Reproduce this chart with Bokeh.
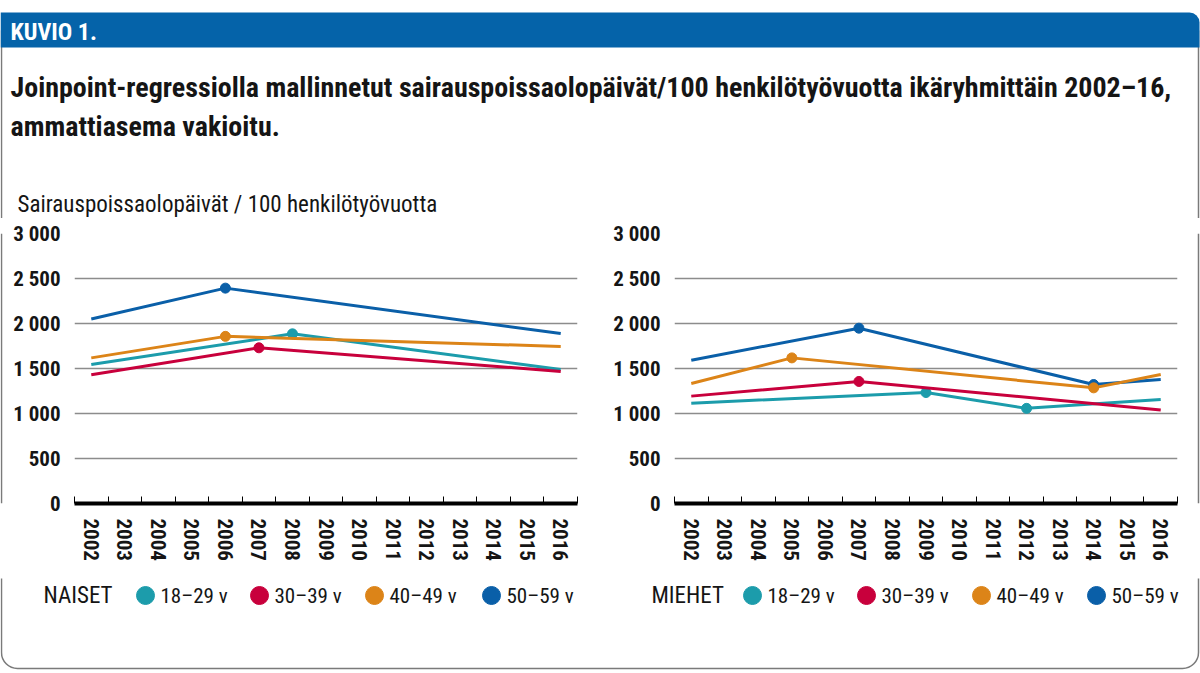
from bokeh.plotting import figure
from bokeh.layouts import column, row
from bokeh.models import Range1d, FixedTicker, ColumnDataSource
from bokeh.core.properties import value
from bokeh.embed import file_html
from bokeh.resources import INLINE

FONT = "'Roboto Condensed', 'DejaVu Sans Condensed', Roboto"

# ---------------- data ----------------
header_text = "KUVIO 1."
title_lines = [
    "Joinpoint-regressiolla mallinnetut sairauspoissaolopäivät/100 henkilötyövuotta ikäryhmittäin 2002–16,",
    "ammattiasema vakioitu.",
]
y_title = "Sairauspoissaolopäivät / 100 henkilötyövuotta"

years = list(range(2002, 2017))
year_labels = [str(y) for y in years]
y_ticks = [0, 500, 1000, 1500, 2000, 2500, 3000]
y_tick_labels = ["0", "500", "1 000", "1 500", "2 000", "2 500", "3 000"]

groups = ["18–29 v", "30–39 v", "40–49 v", "50–59 v"]
colors = ["#1c9cab", "#c8003c", "#dc8418", "#0a5fa8"]

# Naiset (women): joinpoint years and modelled values
naiset_18_x = [2002, 2008, 2016]
naiset_18_y = [1545, 1885, 1490]
naiset_30_x = [2002, 2007, 2016]
naiset_30_y = [1430, 1730, 1467]
naiset_40_x = [2002, 2006, 2016]
naiset_40_y = [1618, 1857, 1745]
naiset_50_x = [2002, 2006, 2016]
naiset_50_y = [2050, 2393, 1888]

# Miehet (men)
miehet_18_x = [2002, 2009, 2012, 2016]
miehet_18_y = [1115, 1233, 1057, 1156]
miehet_30_x = [2002, 2007, 2016]
miehet_30_y = [1193, 1356, 1038]
miehet_40_x = [2002, 2005, 2014, 2016]
miehet_40_y = [1333, 1618, 1285, 1433]
miehet_50_x = [2002, 2007, 2014, 2016]
miehet_50_y = [1592, 1948, 1322, 1378]

naiset = [(naiset_18_x, naiset_18_y), (naiset_30_x, naiset_30_y),
          (naiset_40_x, naiset_40_y), (naiset_50_x, naiset_50_y)]
miehet = [(miehet_18_x, miehet_18_y), (miehet_30_x, miehet_30_y),
          (miehet_40_x, miehet_40_y), (miehet_50_x, miehet_50_y)]
draw_order = [0, 1, 3, 2]

legend_titles = ["NAISET", "MIEHET"]

# ---------------- styling constants ----------------
W = 1200
TOP_H, ROW_H, BOT_H = 218, 360, 94
HEADER_BLUE = "#0563a9"
FRAME_GRAY = "#7a7a7a"
GRID_GRAY = "#8c8c8c"
INK = "#151515"


def deco_fig(w, h):
    p = figure(width=w, height=h, x_range=Range1d(0, w), y_range=Range1d(h, 0),
               x_axis_location=None, y_axis_location=None,
               toolbar_location=None, output_backend="svg", min_border=0)
    p.grid.visible = False
    p.outline_line_color = None
    p.background_fill_color = "white"
    p.border_fill_color = "white"
    return p


# ---------------- top (header, title) ----------------
top = deco_fig(W, TOP_H)
top.quad(left=[1], right=[1198], top=[30], bottom=[TOP_H + 40],
         fill_color=None, line_color=FRAME_GRAY, line_width=1.5)
top.quad(left=[0], right=[1199], top=[12], bottom=[47], fill_color=HEADER_BLUE,
         line_color=None, border_radius=(0, 10, 0, 0))
top.text(x=[10], y=[31], text=[header_text], text_font=value(FONT),
         text_font_size=value("24px"), text_font_style="bold",
         text_color="white", text_baseline="middle")
top.text(x=[10, 10], y=[87, 126], text=title_lines, text_font=value(FONT),
         text_font_size=value("28px"), text_font_style="bold",
         text_color=INK, text_baseline="middle")
top.text(x=[17], y=[204], text=[y_title], text_font=value(FONT),
         text_font_size=value("23px"), text_color=INK,
         text_baseline="middle")


# ---------------- charts ----------------
def chart(w, mbl, mbr, series):
    p = figure(width=w, height=ROW_H, x_range=Range1d(2001.5, 2016.5),
               y_range=Range1d(0, 3000), toolbar_location=None,
               output_backend="svg", min_border_left=mbl, min_border_right=mbr,
               min_border_top=15, min_border_bottom=75)
    p.outline_line_color = None
    p.xgrid.visible = False
    p.ygrid.grid_line_color = GRID_GRAY
    p.ygrid.grid_line_width = 1.5
    p.ygrid.ticker = FixedTicker(ticks=y_ticks)
    p.yaxis.ticker = FixedTicker(ticks=y_ticks)
    p.yaxis.major_label_overrides = dict(zip(y_ticks, y_tick_labels))
    p.yaxis.axis_line_color = None
    p.yaxis.major_tick_line_color = None
    p.yaxis.minor_tick_line_color = None
    p.yaxis.major_label_standoff = 8
    p.yaxis.major_label_text_font = FONT
    p.yaxis.major_label_text_font_size = "21px"
    p.yaxis.major_label_text_font_style = "bold"
    p.yaxis.major_label_text_color = INK

    p.xaxis.ticker = FixedTicker(ticks=years,
                                 minor_ticks=[y - 0.5 for y in years] + [years[-1] + 0.5])
    p.xaxis.major_label_overrides = dict(zip(years, year_labels))
    p.xaxis.axis_line_width = 4
    p.xaxis.axis_line_color = "black"
    p.xaxis.major_tick_line_color = None
    p.xaxis.minor_tick_in = 7
    p.xaxis.minor_tick_out = 0
    p.xaxis.minor_tick_line_color = "black"
    p.xaxis.minor_tick_line_width = 1
    p.xaxis.major_label_orientation = "vertical"
    p.xaxis.major_label_standoff = 9
    p.xaxis.major_label_text_font = FONT
    p.xaxis.major_label_text_font_size = "21px"
    p.xaxis.major_label_text_font_style = "bold"
    p.xaxis.major_label_text_color = INK

    for i in draw_order:
        xs, ys = series[i]
        p.line(xs, ys, line_color=colors[i], line_width=3)
        p.scatter(xs[1:-1], ys[1:-1], size=10, marker="circle",
                  fill_color=colors[i], line_color=colors[i])
    return p


left = chart(595, 63, 28, naiset)
right = chart(583, 69, 11, miehet)

lsp = deco_fig(10, ROW_H)
lsp.segment(x0=[1], y0=[0], x1=[1], y1=[ROW_H], line_color=FRAME_GRAY, line_width=1.5)
rsp = deco_fig(12, ROW_H)
rsp.segment(x0=[10], y0=[0], x1=[10], y1=[ROW_H], line_color=FRAME_GRAY, line_width=1.5)

# ---------------- bottom (legends, frame) ----------------
bot = deco_fig(W, BOT_H)
bot.quad(left=[1], right=[1198], top=[-40], bottom=[90], fill_color=None,
         line_color=FRAME_GRAY, line_width=1.5, border_radius=(0, 0, 16, 16))

legend_x0 = [43, 651]
dot_x = [[145, 259, 374, 491], [752, 866, 981, 1096]]
LY = 17
for k in range(2):
    bot.text(x=[legend_x0[k]], y=[LY], text=[legend_titles[k]], text_font=value(FONT),
             text_font_size=value("23px"), text_color=INK, text_baseline="middle")
    src = ColumnDataSource(dict(x=dot_x[k], y=[LY] * 4, c=colors,
                                tx=[v + 15 for v in dot_x[k]], t=groups))
    bot.scatter(x="x", y="y", size=18, marker="circle", fill_color="c",
                line_color="c", source=src)
    bot.text(x="tx", y="y", text="t", text_font=value(FONT),
             text_font_size=value("21px"), text_color=INK,
             text_baseline="middle", source=src)

layout = column(top, row(lsp, left, right, rsp), bot)

open("out.html", "w").write(file_html(layout, INLINE))
